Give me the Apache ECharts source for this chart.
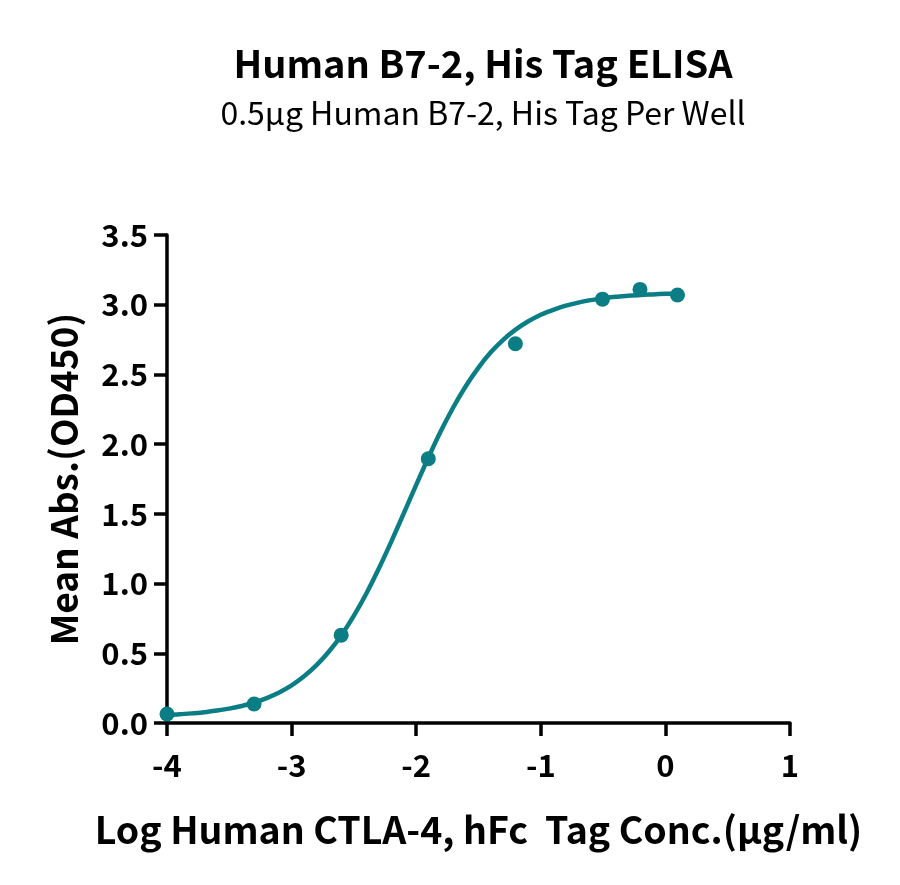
<!DOCTYPE html>
<html>
<head>
<meta charset="utf-8">
<script src="https://cdn.jsdelivr.net/npm/echarts@6/dist/echarts.min.js"></script>
<style>
  html, body { margin: 0; padding: 0; background: #fff; }
  #main { width: 900px; height: 885px; }
</style>
</head>
<body>
<div id="main"></div>
<script>
// measured points: log conc (ug/ml) vs OD450
var logConc = [-4.0, -3.301, -2.602, -1.903, -1.204, -0.505, -0.204, 0.097];
var meanAbs = [0.065, 0.136, 0.63, 1.895, 2.72, 3.04, 3.11, 3.07];

// fitted curve
var curveX = [-4.0, -3.9, -3.8, -3.7, -3.6, -3.5, -3.4, -3.3, -3.2, -3.1, -3.0,
  -2.9, -2.8, -2.7, -2.6, -2.5, -2.4, -2.3, -2.2, -2.1, -2.0,
  -1.9, -1.8, -1.7, -1.6, -1.5, -1.4, -1.3, -1.2, -1.1, -1.0,
  -0.9, -0.8, -0.7, -0.6, -0.5, -0.4, -0.3, -0.2, -0.1, 0.0, 0.1];
var curveY = [0.057, 0.062, 0.069, 0.077, 0.089, 0.103, 0.122, 0.147, 0.179, 0.219, 0.27,
  0.335, 0.415, 0.513, 0.63, 0.77, 0.929, 1.108, 1.301, 1.503, 1.708,
  1.908, 2.097, 2.268, 2.419, 2.549, 2.66, 2.75, 2.823, 2.881, 2.928,
  2.963, 2.993, 3.015, 3.033, 3.046, 3.057, 3.064, 3.07, 3.074, 3.078, 3.081];

var xTicks = [-4, -3, -2, -1, 0, 1];
var yTicks = [0, 0.5, 1, 1.5, 2, 2.5, 3, 3.5];

var teal = '#0b7e85';
var font = '"Noto Sans CJK SC", "Noto Sans", sans-serif';

var chart = echarts.init(document.getElementById('main'));

function zip(a, b) {
  return a.map(function (v, i) { return [v, b[i]]; });
}

var option = {
  backgroundColor: '#ffffff',
  animation: false,
  title: {
    text: 'Human B7-2, His Tag ELISA',
    subtext: '0.5μg Human B7-2, His Tag Per Well',
    left: 478,
    textAlign: 'center',
    top: 40,
    itemGap: 14,
    textStyle: { fontFamily: font, fontWeight: 'bold', fontSize: 38, color: '#000' },
    subtextStyle: { fontFamily: font, fontSize: 32, color: '#000' }
  },
  grid: { left: 167, right: 110, top: 235, bottom: 162 },
  xAxis: {
    type: 'value',
    min: -4,
    max: 1,
    interval: 1,
    name: 'Log Human CTLA-4, hFc  Tag Conc.(μg/ml)',
    nameLocation: 'middle',
    nameGap: 88,
    nameTextStyle: { fontFamily: font, fontWeight: 'bold', fontSize: 37.5, color: '#000' },
    axisLine: { onZero: false, lineStyle: { color: '#000', width: 3.5 } },
    axisTick: { show: true, length: 13, lineStyle: { color: '#000', width: 3.5 } },
    axisLabel: {
      fontFamily: font, fontWeight: 'bold', fontSize: 31, color: '#000', margin: 27,
      formatter: function (v) { return xTicks.indexOf(v) >= 0 ? String(v) : ''; }
    },
    splitLine: { show: false }
  },
  yAxis: {
    type: 'value',
    min: 0,
    max: 3.5,
    interval: 0.5,
    name: 'Mean Abs.(OD450)',
    nameLocation: 'middle',
    nameGap: 85,
    nameTextStyle: { fontFamily: font, fontWeight: 'bold', fontSize: 37, color: '#000' },
    axisLine: { show: true, onZero: false, lineStyle: { color: '#000', width: 3.5 } },
    axisTick: { show: true, length: 13, lineStyle: { color: '#000', width: 3.5 } },
    axisLabel: {
      fontFamily: font, fontWeight: 'bold', fontSize: 31, color: '#000', margin: 19,
      formatter: function (v) { return yTicks.indexOf(v) >= 0 ? v.toFixed(1) : ''; }
    },
    splitLine: { show: false }
  },
  series: [
    {
      name: 'fit',
      type: 'line',
      data: zip(curveX, curveY),
      smooth: 0.3,
      showSymbol: false,
      lineStyle: { color: teal, width: 4.5 },
      z: 2
    },
    {
      name: 'data',
      type: 'scatter',
      data: zip(logConc, meanAbs),
      symbol: 'circle',
      symbolSize: 15,
      itemStyle: { color: teal, opacity: 1 },
      z: 3
    }
  ]
};

chart.setOption(option);
</script>
</body>
</html>
